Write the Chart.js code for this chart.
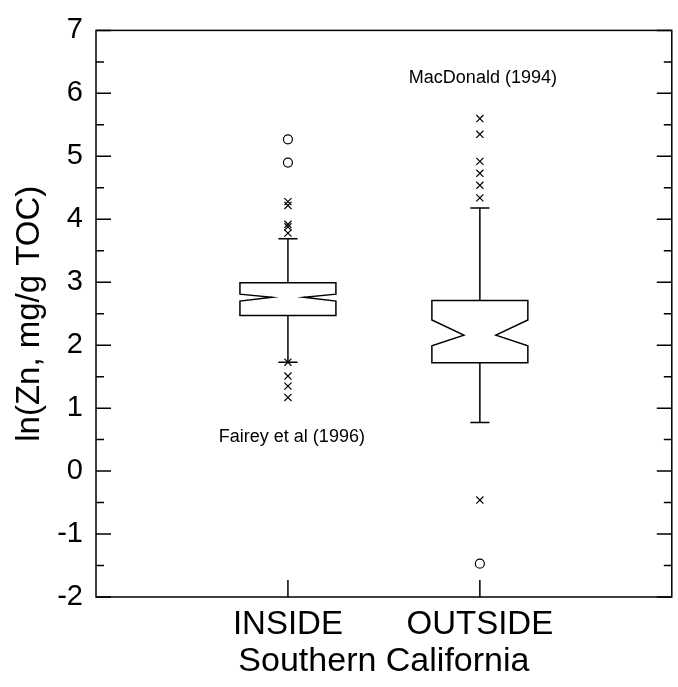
<!DOCTYPE html>
<html>
<head>
<meta charset="utf-8">
<script src="https://cdn.jsdelivr.net/npm/chart.js@4/dist/chart.umd.min.js"></script>
<style>
  html, body { margin: 0; padding: 0; background: #fff; }
  canvas { display: block; }
</style>
</head>
<body>
<canvas id="zn-box" width="678" height="687"></canvas>
<script>
// categories + box summaries
const categories = ['INSIDE', 'OUTSIDE'];
const q1 = [2.47, 1.72];
const median = [2.76, 2.16];
const q3 = [2.99, 2.71];
const notchLow = [2.70, 1.99];
const notchHigh = [2.81, 2.40];
const whiskerLow = [1.73, 0.77];
const whiskerHigh = [3.69, 4.18];

// outliers (crosses = outside 1.5 IQR, circles = far out)
const insideCrosses = [4.28, 4.22, 3.92, 3.88, 3.78, 1.73, 1.51, 1.35, 1.17];
const outsideCrosses = [5.60, 5.35, 4.92, 4.73, 4.54, 4.34, -0.46];
const insideCircles = [5.27, 4.90];
const outsideCircles = [-1.47];

const yTicks = [-2, -1, 0, 1, 2, 3, 4, 5, 6, 7];

const FONT = "'Liberation Sans', Arial, sans-serif";

const toPoints = (vals, x) => vals.map(v => ({ x: x, y: v }));

// notched boxes + whiskers
const boxPlugin = {
    id: 'notchedBoxes',
    beforeDatasetsDraw(chart) {
        const ctx = chart.ctx;
        const xs = chart.scales.x;
        const ys = chart.scales.y;
        const halfW = xs.getPixelForValue(0.25) - xs.getPixelForValue(0);
        const notchW = halfW / 3;
        const capW = xs.getPixelForValue(0.05) - xs.getPixelForValue(0);

        ctx.save();
        ctx.strokeStyle = '#000';
        ctx.lineWidth = 1.5;
        categories.forEach((c, i) => {
            const x = xs.getPixelForValue(i + 1);
            const yQ1 = ys.getPixelForValue(q1[i]);
            const yQ3 = ys.getPixelForValue(q3[i]);
            const yMed = ys.getPixelForValue(median[i]);
            const yNl = ys.getPixelForValue(notchLow[i]);
            const yNh = ys.getPixelForValue(notchHigh[i]);

            ctx.beginPath();
            ctx.moveTo(x - halfW, yQ3);
            ctx.lineTo(x + halfW, yQ3);
            ctx.lineTo(x + halfW, yNh);
            ctx.lineTo(x + notchW, yMed);
            ctx.lineTo(x + halfW, yNl);
            ctx.lineTo(x + halfW, yQ1);
            ctx.lineTo(x - halfW, yQ1);
            ctx.lineTo(x - halfW, yNl);
            ctx.lineTo(x - notchW, yMed);
            ctx.lineTo(x - halfW, yNh);
            ctx.closePath();
            ctx.stroke();

            const yWh = ys.getPixelForValue(whiskerHigh[i]);
            const yWl = ys.getPixelForValue(whiskerLow[i]);
            ctx.beginPath();
            ctx.moveTo(x, yQ3);
            ctx.lineTo(x, yWh);
            ctx.moveTo(x - capW, yWh);
            ctx.lineTo(x + capW, yWh);
            ctx.moveTo(x, yQ1);
            ctx.lineTo(x, yWl);
            ctx.moveTo(x - capW, yWl);
            ctx.lineTo(x + capW, yWl);
            ctx.stroke();
        });
        ctx.restore();
    },
    afterDraw(chart) {
        const ctx = chart.ctx;
        const xs = chart.scales.x;
        const ys = chart.scales.y;
        const a = chart.chartArea;

        ctx.save();
        ctx.strokeStyle = '#000';
        ctx.lineWidth = 1.5;
        ctx.strokeRect(a.left, a.top, a.right - a.left, a.bottom - a.top);

        // inward ticks, left & right, majors + half-unit minors
        ctx.beginPath();
        for (let v = -2; v <= 7; v += 0.5) {
            const y = ys.getPixelForValue(v);
            const len = Number.isInteger(v) ? 15 : 8;
            ctx.moveTo(a.left, y);
            ctx.lineTo(a.left + len, y);
            ctx.moveTo(a.right, y);
            ctx.lineTo(a.right - len, y);
        }
        categories.forEach((c, i) => {
            const x = xs.getPixelForValue(i + 1);
            ctx.moveTo(x, a.bottom);
            ctx.lineTo(x, a.bottom - 17);
        });
        ctx.stroke();

        // source notes
        ctx.fillStyle = '#000';
        ctx.font = '18px ' + FONT;
        ctx.textAlign = 'left';
        ctx.textBaseline = 'alphabetic';
        ctx.fillText('MacDonald (1994)', xs.getPixelForValue(1.63), ys.getPixelForValue(6.17));
        ctx.fillText('Fairey et al (1996)', xs.getPixelForValue(0.64), ys.getPixelForValue(0.455));
        ctx.restore();
    }
};

const markerCommon = {
    showLine: false,
    borderColor: '#000',
    backgroundColor: 'rgba(0,0,0,0)',
    borderWidth: 1.2
};

new Chart(document.getElementById('zn-box'), {
    type: 'scatter',
    data: {
        datasets: [
            Object.assign({ data: toPoints(insideCrosses, 1), pointStyle: 'crossRot', pointRadius: 5 }, markerCommon),
            Object.assign({ data: toPoints(outsideCrosses, 2), pointStyle: 'crossRot', pointRadius: 5 }, markerCommon),
            Object.assign({ data: toPoints(insideCircles, 1), pointStyle: 'circle', pointRadius: 4.5 }, markerCommon),
            Object.assign({ data: toPoints(outsideCircles, 2), pointStyle: 'circle', pointRadius: 4.5 }, markerCommon)
        ]
    },
    options: {
        responsive: false,
        animation: false,
        layout: { padding: { left: 0, right: 6, top: 24, bottom: 0 } },
        plugins: {
            legend: { display: false },
            tooltip: { enabled: false }
        },
        scales: {
            x: {
                type: 'linear',
                min: 0,
                max: 3,
                afterFit: (scale) => { scale.height = 90; },
                afterBuildTicks: (scale) => {
                    scale.ticks = categories.map((c, i) => ({ value: i + 1 }));
                },
                grid: { display: false, drawTicks: false },
                border: { display: false },
                ticks: {
                    color: '#000',
                    padding: 8,
                    maxRotation: 0,
                    font: { family: FONT, size: 33 },
                    callback: (v) => categories[v - 1] || ''
                },
                title: {
                    display: true,
                    text: 'Southern California',
                    color: '#000',
                    padding: { top: 0, bottom: 5 },
                    font: { family: FONT, size: 34 }
                }
            },
            y: {
                min: -2,
                max: 7,
                afterFit: (scale) => { scale.width = 96; },
                afterBuildTicks: (scale) => {
                    scale.ticks = yTicks.map(v => ({ value: v }));
                },
                grid: { display: false, drawTicks: false },
                border: { display: false },
                ticks: {
                    color: '#000',
                    padding: 13,
                    font: { family: FONT, size: 29 }
                },
                title: {
                    display: true,
                    text: 'ln(Zn, mg/g TOC)',
                    color: '#000',
                    padding: { top: 10, bottom: 0 },
                    font: { family: FONT, size: 33 }
                }
            }
        }
    },
    plugins: [boxPlugin]
});
</script>
</body>
</html>
